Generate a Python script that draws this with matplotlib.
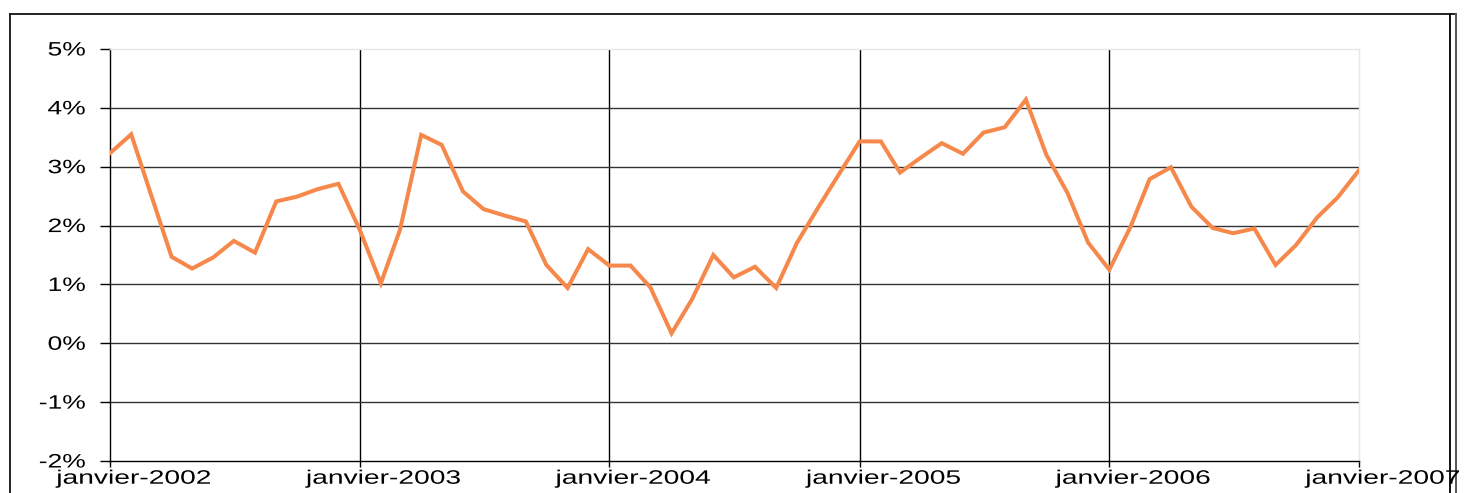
import matplotlib
matplotlib.use("Agg")
import matplotlib.pyplot as plt
import matplotlib.dates as mdates
from matplotlib.lines import Line2D
from matplotlib.patheffects import AbstractPathEffect
from matplotlib.transforms import Affine2D
import pandas as pd

# ---- data ----
months = pd.date_range("2002-01-01", periods=61, freq="MS")
values = [3.23, 3.55, 2.56, 1.47, 1.27, 1.46, 1.74, 1.54, 2.41, 2.49, 2.62, 2.71,
          1.93, 1.02, 1.93, 3.54, 3.37, 2.58, 2.28, 2.17, 2.07, 1.33, 0.94, 1.60,
          1.32, 1.32, 0.95, 0.17, 0.75, 1.50, 1.12, 1.30, 0.94, 1.70, 2.30, 2.86,
          3.43, 3.43, 2.90, 3.16, 3.40, 3.22, 3.58, 3.67, 4.14, 3.20, 2.55, 1.71,
          1.25, 1.98, 2.79, 2.99, 2.32, 1.96, 1.87, 1.95, 1.33, 1.67, 2.14, 2.48,
          2.94]
year_ticks = pd.to_datetime(["2002-01-01", "2003-01-01", "2004-01-01",
                             "2005-01-01", "2006-01-01", "2007-01-01"])
year_labels = ["janvier-2002", "janvier-2003", "janvier-2004",
               "janvier-2005", "janvier-2006", "janvier-2007"]
y_ticks = [-2, -1, 0, 1, 2, 3, 4, 5]
y_labels = ["-2%", "-1%", "0%", "1%", "2%", "3%", "4%", "5%"]

plt.rcParams["font.family"] = ["Liberation Sans", "DejaVu Sans"]
plt.rcParams["axes.unicode_minus"] = False


class HStretch(AbstractPathEffect):
    """Stretch rendered text horizontally around an anchor of its ink box."""
    def __init__(self, sx, anchor="center"):
        super().__init__()
        self.sx = sx
        self.anchor = anchor

    def draw_path(self, renderer, gc, tpath, affine, rgbFace=None):
        ext = tpath.get_extents(affine)
        if self.anchor == "left":
            px = ext.x0
        elif self.anchor == "right":
            px = ext.x1
        else:
            px = 0.5 * (ext.x0 + ext.x1)
        t = affine + Affine2D().translate(-px, 0).scale(self.sx, 1).translate(px, 0)
        renderer.draw_path(gc, tpath, t, rgbFace)


W, H = 1464, 493
fig = plt.figure(figsize=(W / 100, H / 100), dpi=100)
fig.patch.set_facecolor("white")


def fx(px):
    return px / W


def fy(py):
    return 1 - py / H


# outer frame
frame_kw = dict(transform=fig.transFigure, zorder=-1)
fig.add_artist(Line2D([fx(10), fx(1456)], [fy(14), fy(14)], color="#222222", lw=1.4, **frame_kw))
fig.add_artist(Line2D([fx(10), fx(10)], [fy(14), fy(500)], color="#222222", lw=1.4, **frame_kw))
fig.add_artist(Line2D([fx(1450), fx(1450)], [fy(14), fy(500)], color="#111111", lw=1.4, **frame_kw))
fig.add_artist(Line2D([fx(1456), fx(1456)], [fy(14), fy(500)], color="#555555", lw=1.4, **frame_kw))

ax = fig.add_axes([fx(110), fy(461), fx(1359) - fx(110), fy(49) - fy(461)])
ax.set_facecolor("white")

ax.plot(months, values, color="#F5884A", lw=2.9, solid_joinstyle="miter", zorder=3)

ax.set_xlim(year_ticks[0], year_ticks[-1])
ax.set_ylim(-2, 5)
ax.set_xticks(year_ticks, year_labels)
ax.set_yticks(y_ticks, y_labels)

for s in ["left", "bottom"]:
    ax.spines[s].set_color("black")
    ax.spines[s].set_linewidth(1.0)
for s in ["top", "right"]:
    ax.spines[s].set_color("#e8e8e8")
    ax.spines[s].set_linewidth(1.0)

ax.tick_params(axis="y", direction="out", length=7, width=1, color="black",
               labelsize=14, pad=10.5, labelcolor="black")
ax.tick_params(axis="x", direction="out", length=4, width=1, color="black",
               labelsize=14, pad=3, labelcolor="black")

ax.grid(axis="y", color="#333333", lw=1.0)
ax.grid(axis="x", color="black", lw=1.0)
ax.set_axisbelow(True)

fig.canvas.draw()
ax.yaxis.get_gridlines()[-1].set_visible(False)
ax.xaxis.get_gridlines()[-1].set_visible(False)
ax.xaxis.get_gridlines()[0].set_visible(False)
ax.yaxis.get_gridlines()[0].set_visible(False)
for lbl in ax.get_xticklabels():
    lbl.set_path_effects([HStretch(1.45, "left")])
for lbl in ax.get_yticklabels():
    lbl.set_path_effects([HStretch(1.36, "right")])

fig.savefig("out.png", dpi=100, facecolor="white")
